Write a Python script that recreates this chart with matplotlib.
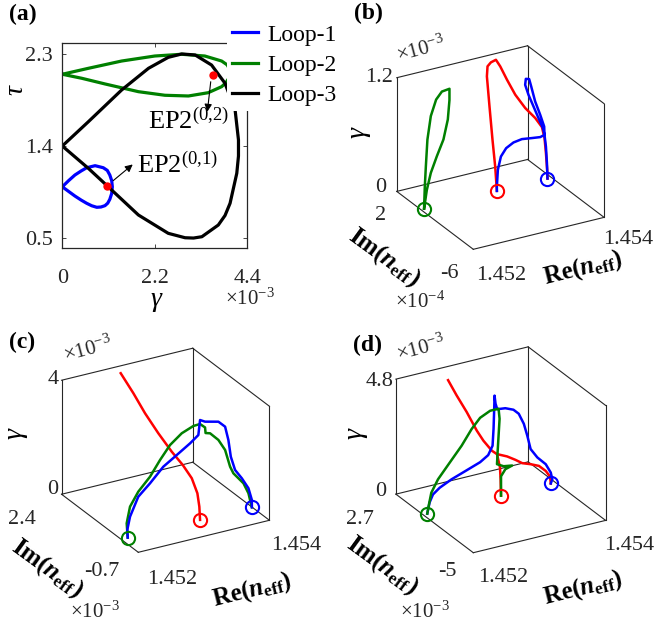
import numpy as np
import matplotlib
matplotlib.use("Agg")
import matplotlib.pyplot as plt
from mpl_toolkits.mplot3d import proj3d

W, H = 660, 633

plt.rcParams["font.family"] = ["Liberation Serif", "DejaVu Serif"]
plt.rcParams["mathtext.fontset"] = "custom"
plt.rcParams["mathtext.rm"] = "Liberation Serif"
plt.rcParams["mathtext.it"] = "Liberation Serif:italic"
plt.rcParams["mathtext.bf"] = "Liberation Serif:bold"
if "mathtext.bfit" in plt.rcParams:
    plt.rcParams["mathtext.bfit"] = "Liberation Serif:bold:italic"

BLUE, GREEN, RED, BLACK = "#0000ff", "#008000", "#ff0000", "#000000"
EDGE = "#262626"

# ---------------- (a) parameter loops: gamma (x1e-3) vs tau ----------------
loop1_gamma = [0, 0.15, 0.30, 0.45, 0.58, 0.78, 0.975, 1.07, 1.13, 1.175, 1.19, 1.175,
               1.13, 1.08, 1.015, 0.92, 0.82, 0.70, 0.58, 0.45, 0.30, 0.15, 0]
loop1_tau = [1.00, 1.06, 1.115, 1.155, 1.186, 1.206, 1.186, 1.16, 1.115, 1.06, 1.00, 0.935,
             0.878, 0.84, 0.816, 0.803, 0.80, 0.815, 0.839, 0.87, 0.91, 0.955, 1.00]
loop2_gamma = [0, 0.62, 1.41, 2.20, 2.84, 3.39, 3.79, 3.92, 3.99, 4.01, 3.96, 3.89, 3.79,
               3.47, 3.0, 2.44, 1.81, 1.02, 0.46, 0]
loop2_tau = [2.098, 2.156, 2.227, 2.276, 2.293, 2.276, 2.227, 2.19, 2.14, 2.10, 2.059, 2.015,
             1.977, 1.918, 1.886, 1.893, 1.928, 2.003, 2.059, 2.098]
loop3_gamma = [0, 0.62, 1.41, 2.05, 2.52, 2.84, 3.16, 3.55, 3.87, 4.11, 4.19, 4.19, 4.15,
               3.99, 3.87, 3.71, 3.32, 3.12, 2.92, 2.52, 1.81, 1.09, 0.62, 0]
loop3_tau = [1.398, 1.635, 1.944, 2.156, 2.263, 2.296, 2.286, 2.188, 2.01, 1.749, 1.457, 1.30,
             1.132, 0.839, 0.72, 0.627, 0.513, 0.50, 0.503, 0.546, 0.725, 1.001, 1.18, 1.398]
ep_gamma = [1.07, 3.58]
ep_tau = [1.01, 2.09]

# ---------------- (b) Loop-1 trajectories: Re, Im (x1e-4), gamma (x1e-3) ----------------
b_green_re = [1.452052, 1.452063, 1.452079, 1.452103, 1.452155, 1.452236, 1.452324, 1.452440,
              1.452440, 1.452415, 1.452348, 1.452247, 1.452155, 1.452094, 1.452052]
b_green_im = [-0.5, -0.5, -0.5, -0.5, -0.5, -0.5, -0.5, -0.5, -0.5, -0.5, -0.5, -0.5, -0.5, -0.5, -0.5]
b_green_g = [0, 0.23, 0.44, 0.72, 0.96, 1.12, 1.19, 1.20, 1.08, 0.88, 0.68, 0.52, 0.36, 0.19, 0]
b_red_re = [1.453165, 1.453190, 1.453205, 1.453229, 1.453252, 1.453282, 1.453340, 1.453420, 1.453470,
            1.453542, 1.453634, 1.453754, 1.453882, 1.453962, 1.453978, 1.453968, 1.453952, 1.453939]
b_red_im = [-0.50, -0.152, 0.232, 0.709, 1.138, 1.277, 1.320, 1.342, 1.232, 1.024, 0.784, 0.563,
            0.390, 0.241, 0.078, -0.138, -0.376, -0.50]
b_red_g = [0, 0.227, 0.478, 0.788, 1.069, 1.159, 1.188, 1.20, 1.130, 0.994, 0.838, 0.694, 0.580,
           0.483, 0.377, 0.236, 0.081, 0]
b_blue_re = [1.453939, 1.453913, 1.453879, 1.453844, 1.453812, 1.453732, 1.453642, 1.453551, 1.453488,
             1.453492, 1.453544, 1.453584, 1.453662, 1.453755, 1.453830, 1.453844, 1.453780, 1.453652,
             1.453497, 1.453370, 1.453262, 1.453190, 1.453157, 1.453160, 1.453165]
b_blue_im = [-0.50, -0.618, -0.745, -0.835, -0.889, -0.973, -1.069, -1.166, -1.248, -1.292, -1.284,
             -1.224, -1.104, -0.994, -0.898, -0.835, -0.826, -0.834, -0.845, -0.834, -0.806, -0.752,
             -0.658, -0.534, -0.50]
b_blue_g = [0, 0.176, 0.367, 0.503, 0.583, 0.709, 0.854, 1.000, 1.122, 1.188, 1.176, 1.087, 0.906,
            0.742, 0.598, 0.503, 0.489, 0.501, 0.517, 0.502, 0.458, 0.378, 0.236, 0.050, 0]
b_start_re = [1.452052, 1.453165, 1.453939]
b_start_im = [-0.5, -0.5, -0.5]

# ---------------- (c) Loop-2 trajectories: Re, Im (x1e-3), gamma (x1e-3) ----------------
c_red_re = [1.453206, 1.453268, 1.453314, 1.453318, 1.453265, 1.453184, 1.453098, 1.453022,
            1.452969, 1.452902]
c_red_im = [0.0, 0.193, 0.394, 0.631, 0.855, 1.086, 1.399, 1.735, 2.066, 2.40]
c_red_g = [0, 0.301, 0.614, 0.983, 1.332, 1.692, 2.18, 2.704, 3.22, 3.74]
c_green_re = [1.452103, 1.452087, 1.452138, 1.452264, 1.452443, 1.452596, 1.452748, 1.452927,
              1.453104, 1.453206, 1.453282, 1.453290, 1.453359, 1.453486, 1.453588, 1.453664,
              1.453714, 1.453868, 1.453944, 1.453980, 1.453996]
c_green_im = [0, 0, 0, 0, 0, 0, 0, 0, 0, 0, 0, 0, 0, 0, 0, 0, 0, 0, 0, 0, 0]
c_green_g = [0, 0.508, 1.064, 1.518, 1.944, 2.444, 2.884, 3.196, 3.352, 3.364, 3.20, 3.00, 2.952,
             2.647, 2.238, 1.61, 1.35, 0.912, 0.519, 0.148, 0]
c_blue_re = [1.452103, 1.452096, 1.452138, 1.452264, 1.452443, 1.452646, 1.452851, 1.453054,
             1.453180, 1.453206, 1.453282, 1.453486, 1.453588, 1.453638, 1.453675, 1.453740,
             1.453843, 1.453944, 1.453996, 1.453996]
c_blue_im = [0, 0, 0, 0, 0, 0, 0, 0, 0, 0, 0, 0, 0, 0, 0, 0, 0, 0, 0, 0]
c_blue_g = [0, 0.269, 0.712, 1.343, 1.712, 2.181, 2.476, 2.772, 2.992, 3.504, 3.404, 3.288, 3.056,
            2.56, 1.954, 1.451, 1.102, 0.695, 0.255, 0]
c_start_re = [1.452103, 1.453206, 1.453996]
c_start_im = [0, 0, 0]

# ---------------- (d) Loop-3 trajectories: Re, Im (x1e-3), gamma (x1e-3) ----------------
d_red_up_re = [1.453179, 1.453225, 1.453254, 1.453254]
d_red_up_im = [0, 0.345, 0.596, 0.894]
d_red_up_g = [0, 0.540, 0.934, 1.399]
d_red_down_re = [1.452789, 1.452862, 1.452954, 1.453039, 1.453102, 1.453192, 1.453254, 1.453391,
                 1.453500, 1.453587, 1.453704, 1.453818, 1.453899, 1.453943, 1.453931]
d_red_down_im = [2.70, 2.337, 1.934, 1.491, 1.245, 0.990, 0.894, 0.793, 0.678, 0.574, 0.509,
                 0.430, 0.290, 0.149, 0]
d_red_down_g = [4.226, 3.66, 3.028, 2.336, 1.950, 1.549, 1.399, 1.242, 1.062, 0.898, 0.797,
                0.673, 0.453, 0.232, 0]
d_green_re = [1.452064, 1.452089, 1.452125, 1.452226, 1.452405, 1.452583, 1.452736, 1.452863,
              1.453015, 1.453142, 1.453157, 1.453142, 1.453127, 1.453118, 1.453218, 1.453347,
              1.453244, 1.453179, 1.453179, 1.453179]
d_green_im = [0, 0, 0, 0, 0, 0, 0, 0, 0, 0, 0, 0, 0, 0, 0, 0, 0, 0, 0, 0]
d_green_g = [0, 0.362, 0.830, 1.322, 1.906, 2.484, 3.084, 3.462, 3.654, 3.653, 3.221, 2.529,
             1.840, 1.354, 1.201, 1.144, 1.058, 0.807, 0.386, 0]
d_blue_re = [1.452064, 1.452099, 1.452150, 1.452252, 1.452431, 1.452660, 1.452863, 1.452985,
             1.453051, 1.453066, 1.453076, 1.453081, 1.453096, 1.453122, 1.453244, 1.453367,
             1.453447, 1.453524, 1.453576, 1.453626, 1.453728, 1.453855, 1.453931, 1.453954, 1.453931]
d_blue_im = [0, 0, 0, 0, 0, 0, 0, 0, 0, 0, 0, 0, 0, 0, 0, 0, 0, 0, 0, 0, 0, 0, 0, 0, 0]
d_blue_g = [0, 0.440, 0.742, 0.955, 1.185, 1.409, 1.609, 1.822, 2.170, 2.862, 3.696, 4.241,
            3.894, 3.645, 3.605, 3.459, 3.237, 2.764, 2.236, 1.643, 1.224, 0.856, 0.456, 0.158, 0]
d_start_re = [1.452064, 1.453179, 1.453931]
d_start_im = [0, 0, 0]
start_colors = [GREEN, RED, BLUE]

fig = plt.figure(figsize=(W / 100, H / 100), dpi=100)
fig.patch.set_facecolor("white")


def px_text(x, y, s, **kw):
    # text placed by pixel position (origin top-left)
    kw.setdefault("ha", "center")
    kw.setdefault("va", "center")
    kw.setdefault("rotation_mode", "anchor")
    fig.text(x / W, 1 - y / H, s, **kw)


# ---------------- panel (a) ----------------
ax = fig.add_axes([62.3 / W, 1 - 248.3 / H, 185 / W, 205 / H])
ax.plot(loop1_gamma, loop1_tau, color=BLUE, lw=2.3, label="Loop-1")
ax.plot(loop2_gamma, loop2_tau, color=GREEN, lw=2.3, label="Loop-2")
ax.plot(loop3_gamma, loop3_tau, color=BLACK, lw=2.3, label="Loop-3")
ax.plot(ep_gamma, ep_tau, "o", color=RED, ms=6, mec="none", zorder=5)
ax.set_xlim(0, 4.4)
ax.set_ylim(0.4, 2.4)
ax.set_xticks([0, 2.2, 4.4])
ax.set_xticklabels(["0", "2.2", "4.4"])
ax.set_yticks([0.5, 1.4, 2.3])
ax.set_yticklabels(["0.5", "1.4", "2.3"])
ax.tick_params(direction="in", length=3, width=0.6, color=EDGE, top=True, right=True,
               labelsize=16, labelcolor="#262626")
ax.tick_params(axis="x", pad=15)
ax.tick_params(axis="y", pad=7)
for sp in ax.spines.values():
    sp.set_color(EDGE)
    sp.set_linewidth(0.9)

ax.annotate("", xy=(1.675, 1.218), xytext=(1.21, 1.06),
            arrowprops=dict(arrowstyle="-|>", color="k", lw=0.8, mutation_scale=11,
                            shrinkA=0, shrinkB=0))
ax.annotate("", xy=(3.45, 1.733), xytext=(3.53, 2.025),
            arrowprops=dict(arrowstyle="-|>", color="k", lw=0.8, mutation_scale=11,
                            shrinkA=0, shrinkB=0))
ax.text(1.776, 1.213, "EP2$^{(0{,}1)}$", fontsize=19, ha="left", va="center")
ax.text(3.01, 1.642, "EP2$^{(0{,}2)}$", fontsize=19, ha="center", va="center")

leg = ax.legend(loc="lower left", bbox_to_anchor=(227 / W, 1 - 111 / H),
                bbox_transform=fig.transFigure, fontsize=17, frameon=True, fancybox=False,
                handlelength=1.12, handletextpad=0.38, labelspacing=0.37, borderpad=0.2,
                borderaxespad=0)
leg.get_frame().set_facecolor("white")
leg.get_frame().set_edgecolor("none")
leg.get_frame().set_alpha(1)

px_text(23, 14, "(a)", fontsize=17, fontweight="bold")
px_text(156, 300, "γ", fontsize=20, fontstyle="italic")
px_text(250, 299, "×10$^{-3}$", fontsize=15, color="#262626")
px_text(16, 90, "τ", fontsize=20, fontstyle="italic", rotation=90)


# ---------------- 3D panels ----------------
def box3d(re_lim, im_lim, g_lim):
    a3 = fig.add_axes([0, 0, 0.3, 0.3], projection="3d", proj_type="ortho",
                      computed_zorder=False)
    a3.set_facecolor((1, 1, 1, 0))
    a3.set_axis_off()
    a3.view_init(elev=25.45, azim=-119.6)
    a3.set_box_aspect((1, 1.03, 0.837))
    a3.set_xlim(*re_lim)
    a3.set_ylim(*im_lim)
    a3.set_zlim(*g_lim)
    x0, x1 = re_lim
    y0, y1 = im_lim
    z0, z1 = g_lim
    edges = [((x0, x1), (y0, y0), (z0, z0)), ((x1, x1), (y0, y1), (z0, z0)),
             ((x1, x0), (y1, y1), (z0, z0)), ((x0, x0), (y1, y0), (z0, z0)),
             ((x0, x0), (y1, y1), (z0, z1)), ((x1, x1), (y1, y1), (z0, z1)),
             ((x1, x1), (y0, y0), (z0, z1)), ((x0, x1), (y1, y1), (z1, z1)),
             ((x1, x1), (y1, y0), (z1, z1))]
    for ex, ey, ez in edges:
        a3.plot(ex, ey, ez, color=EDGE, lw=0.8)
    return a3


def fit_box(a3, front, edge):
    # scale / move the 3D axes so its front-bottom corner sits at `front` (px from top-left)
    for _ in range(3):
        fig.canvas.draw()
        x0 = a3.get_xlim()[0]
        y0 = a3.get_ylim()[0]
        z0, z1 = a3.get_zlim()
        px, py, _ = proj3d.proj_transform(np.array([x0, x0]), np.array([y0, y0]),
                                          np.array([z0, z1]), a3.get_proj())
        pts = a3.transData.transform(np.column_stack([px, py]))
        bb = a3.bbox
        k = edge / (pts[1, 1] - pts[0, 1])
        gx = (pts[0, 0] - bb.x0) / bb.width
        gy = (pts[0, 1] - bb.y0) / bb.height
        size = bb.width * k
        left = front[0] - gx * size
        bottom = (H - front[1]) - gy * size
        a3.set_position([left / W, bottom / H, size / W, size / H])


LW3 = 1.8

# (b)
axb = box3d((1.452, 1.454), (-6, 2), (0, 1.2))
axb.plot(b_red_re, b_red_im, b_red_g, color=RED, lw=LW3)
axb.plot(b_green_re, b_green_im, b_green_g, color=GREEN, lw=LW3)
axb.plot(b_blue_re, b_blue_im, b_blue_g, color=BLUE, lw=LW3)
for r, i, c in zip(b_start_re, b_start_im, start_colors):
    axb.plot([r], [i], [0], "o", mfc="none", mec=c, ms=9.5, mew=1.5)

# (c)
axc = box3d((1.452, 1.454), (-0.7, 2.4), (0, 4))
axc.plot(c_red_re, c_red_im, c_red_g, color=RED, lw=LW3)
axc.plot(c_green_re, c_green_im, c_green_g, color=GREEN, lw=LW3)
axc.plot(c_blue_re, c_blue_im, c_blue_g, color=BLUE, lw=LW3)
for r, i, c in zip(c_start_re, c_start_im, start_colors):
    axc.plot([r], [i], [0], "o", mfc="none", mec=c, ms=9.5, mew=1.5)

# (d)
axd = box3d((1.452, 1.454), (-5, 2.7), (0, 4.8))
axd.plot(d_red_up_re, d_red_up_im, d_red_up_g, color=RED, lw=LW3)
axd.plot(d_red_down_re, d_red_down_im, d_red_down_g, color=RED, lw=LW3)
axd.plot(d_blue_re, d_blue_im, d_blue_g, color=BLUE, lw=LW3)
axd.plot(d_green_re, d_green_im, d_green_g, color=GREEN, lw=LW3)
for r, i, c in zip(d_start_re, d_start_im, start_colors):
    axd.plot([r], [i], [0], "o", mfc="none", mec=c, ms=9.5, mew=1.5)

IM_LABEL = r"$\mathbf{Im(}\mathbfit{n}_{\mathbf{eff}}\mathbf{)}$"
RE_LABEL = r"$\mathbf{Re(}\mathbfit{n}_{\mathbf{eff}}\mathbf{)}$"
TK = dict(fontsize=16, color="#262626")

# labels (b)
px_text(368, 13, "(b)", fontsize=17, fontweight="bold")
px_text(421, 50, "×10$^{-3}$", fontsize=15, color="#262626", rotation=15)
px_text(393, 78, "1.2", ha="right", **TK)
px_text(386, 188, "0", ha="right", **TK)
px_text(358, 133, "γ", fontsize=20, fontstyle="italic", rotation=90)
px_text(381, 216, "2", **TK)
px_text(449, 273, "-6", **TK)
px_text(384, 257, IM_LABEL, fontsize=18, rotation=-36)
px_text(420, 302, "×10$^{-4}$", fontsize=15, color="#262626")
px_text(501, 275, "1.452", **TK)
px_text(628, 239, "1.454", **TK)
px_text(583, 268, RE_LABEL, fontsize=18, rotation=14)

# labels (c)
px_text(22, 342, "(c)", fontsize=17, fontweight="bold")
px_text(88, 350, "×10$^{-3}$", fontsize=15, color="#262626", rotation=15)
px_text(59, 380, "4", ha="right", **TK)
px_text(15, 434, "γ", fontsize=20, fontstyle="italic", rotation=90)
px_text(58, 490, "0", ha="right", **TK)
px_text(22, 520, "2.4", **TK)
px_text(102, 571, "-0.7", **TK)
px_text(47, 568, IM_LABEL, fontsize=18, rotation=-36)
px_text(95, 612, "×10$^{-3}$", fontsize=15, color="#262626")
px_text(172, 579, "1.452", **TK)
px_text(296, 546, "1.454", **TK)
px_text(252, 590, RE_LABEL, fontsize=18, rotation=14)

# labels (d)
px_text(368, 345, "(d)", fontsize=17, fontweight="bold")
px_text(421, 349, "×10$^{-3}$", fontsize=15, color="#262626", rotation=15)
px_text(393, 381, "4.8", ha="right", **TK)
px_text(355, 434, "γ", fontsize=20, fontstyle="italic", rotation=90)
px_text(386, 492, "0", ha="right", **TK)
px_text(360, 520, "2.7", **TK)
px_text(447, 572, "-5", **TK)
px_text(382, 565, IM_LABEL, fontsize=18, rotation=-36)
px_text(425, 612, "×10$^{-3}$", fontsize=15, color="#262626")
px_text(503, 578, "1.452", **TK)
px_text(629, 546, "1.454", **TK)
px_text(583, 588, RE_LABEL, fontsize=18, rotation=14)

fit_box(axb, (473.3, 249.3), 113.7)
fit_box(axc, (138.3, 552.3), 114.0)
fit_box(axd, (473.3, 552.7), 115.0)

fig.savefig("out.png", dpi=100)
